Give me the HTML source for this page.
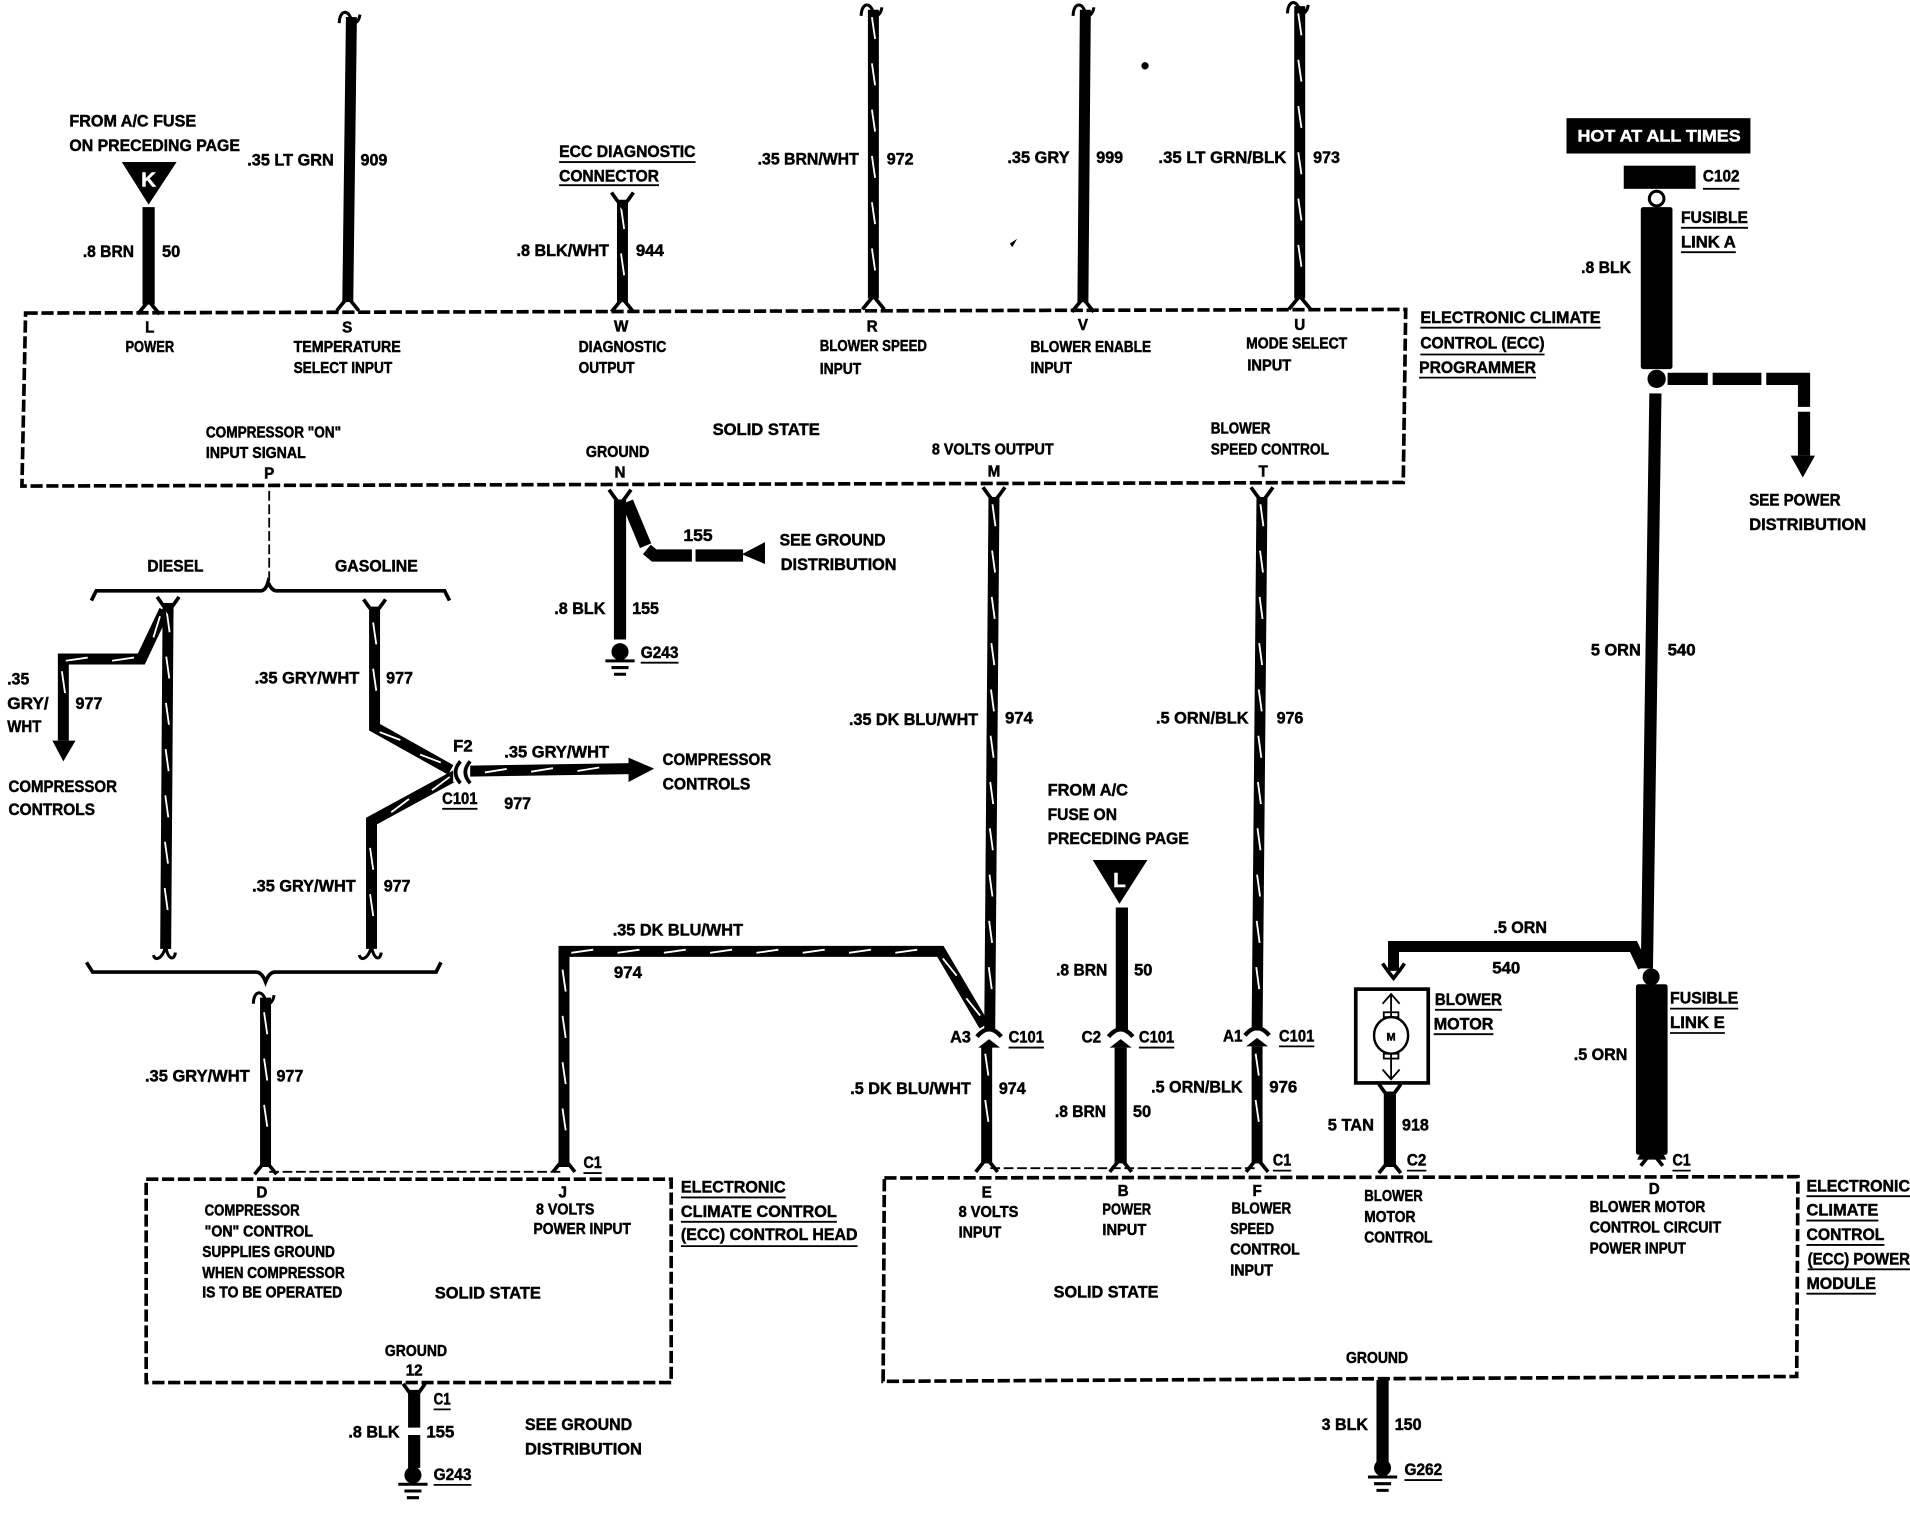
<!DOCTYPE html>
<html><head><meta charset="utf-8"><style>
html,body{margin:0;padding:0;background:#fff}
svg{display:block}
text{font-family:"Liberation Sans",sans-serif;font-weight:700;font-size:14px;fill:#000;stroke:#000;stroke-width:.4}
.s{font-size:12.5px}
.m{text-anchor:middle}
</style></head><body>
<svg xmlns="http://www.w3.org/2000/svg" width="1910" height="1520" viewBox="0 0 1568 1247.8">
<defs>
<path id="s1" d="M-1.2 6L1.4 24" stroke="#fff" stroke-width="1.500" fill="none"/>
<g id="s2"><use href="#s1"/><use href="#s1" y="38"/></g>
<g id="s3"><use href="#s2"/><use href="#s1" y="76"/></g>
<g id="s4"><use href="#s2"/><use href="#s2" y="76"/></g>
<g id="s6"><use href="#s4"/><use href="#s2" y="152"/></g>
<g id="s7"><use href="#s4"/><use href="#s3" y="152"/></g>
<g id="s8"><use href="#s4"/><use href="#s4" y="152"/></g>
<g id="s11"><use href="#s8"/><use href="#s3" y="304"/></g>
<path id="a" d="M-9 6Q-5 1 0-5Q5 1 9 6" fill="none" stroke="#000" stroke-width="3"/>
<path id="y" d="M-9-7Q-5-1 0 5Q5-1 9-7" fill="none" stroke="#000" stroke-width="3"/>
<path id="w" d="M-10 7C-10-4-2-5 0 5C1 9 6 7 7 0" fill="none" stroke="#000" stroke-width="2.5"/>
<path id="b" d="M-10 4C-9 9-3 8 0-3C2 8 7 9 8 2" fill="none" stroke="#000" stroke-width="2.5"/>
<g id="c"><path d="M-10 3Q0-9 10 3" fill="none" stroke="#000" stroke-width="3.5"/><path d="M-9 12L0 5L9 12Z" fill="#000"/></g>
<g id="g"><circle cx="0" cy="0" r="7" fill="#000"/><path d="M-12 7.5H12M-7 13H7M-5 18.5H5" stroke="#000" stroke-width="2.5" fill="none"/></g>
</defs>

<!-- module boxes -->
<g fill="none" stroke="#000" stroke-width="3" stroke-dasharray="10 3">
<path d="M21 257L1154 254L1152 396L18 399Z"/>
<path d="M120 968L551 968L551 1135L120 1135Z"/>
<path d="M726 967L1476 966L1475 1130L725 1134Z"/>
</g>
<g fill="none" stroke="#000" stroke-width="1.5" stroke-dasharray="8 3">
<path d="M221 962H460"/><path d="M813 959H1030"/><path d="M221 403V478"/>
</g>

<!-- solid wires -->
<g fill="none" stroke="#000" stroke-width="10">
<path d="M122 170V250"/>
<path d="M288.500 14L285.500 248" stroke-width="9"/>
<path d="M891 8L889 248" stroke-width="9"/>
<path d="M921 745V845"/><path d="M920 860V955"/>
<path d="M1141 896V958"/>
<path d="M1359 323L1352 795"/>
<path d="M1144 797V777H1341L1349 794" stroke-width="9"/>
<path d="M1369 311H1402M1406 311H1446M1450 311H1481V334M1481 338V374"/>
<path d="M340 1141V1172M340 1178V1205"/>
<path d="M1135 1133V1201"/>
<path d="M509 410V525"/>
<path d="M515 412L530 448M531 451L537 456H568M571 456H610"/>
</g>
<!-- striped wires: black -->
<g fill="none" stroke="#000" stroke-width="9">
<path d="M511 164V248"/>
<path d="M717 8V245"/>
<path d="M1067 5V245"/>
<path d="M816 408L812.500 845"/>
<path d="M810 859V955"/>
<path d="M1036 408L1032 846"/>
<path d="M1032 859V955"/>
<path d="M218 819V958"/>
<path d="M463 958V781H772L808 842"/>
<path d="M138 495L136 779"/>
<path d="M135 501L116 541H52V608"/>
<path d="M307.500 498V597L370 632"/>
<path d="M375 636L305 674V779"/>
<path d="M385 633L518 631"/>
</g>
<!-- stripes -->
<use href="#s2" transform="translate(511 164)"/>
<use href="#s6" transform="translate(717 8)"/>
<use href="#s6" transform="translate(1067 5)"/>
<use href="#s11" transform="translate(816 408) rotate(.46)"/>
<use href="#s2" transform="translate(810 859)"/>
<use href="#s11" transform="translate(1036 408) rotate(.52)"/>
<use href="#s2" transform="translate(1032 859)"/>
<use href="#s3" transform="translate(218 825)"/>
<use href="#s4" transform="translate(463 790)"/>
<use href="#s8" transform="translate(463 781) rotate(-90)"/>
<use href="#s2" transform="translate(772 781) rotate(-30.5)"/>
<use href="#s7" transform="translate(138 495) rotate(.4)"/>
<use href="#s2" transform="translate(307.500 505)"/>
<use href="#s2" transform="translate(305 690)"/>
<use href="#s2" transform="translate(307 597) rotate(-60.9)"/>
<use href="#s2" transform="translate(375 636) rotate(61.5)"/>
<use href="#s3" transform="translate(392 633) rotate(-90.900)"/>
<use href="#s1" transform="translate(135 501) rotate(25.4)"/>
<use href="#s2" transform="translate(116 541) rotate(90)"/>
<use href="#s1" transform="translate(52 545)"/>

<!-- fork ends -->
<use href="#a" x="122" y="252"/><use href="#a" x="285.500" y="249"/><use href="#a" x="511" y="250"/>
<use href="#a" x="717" y="248"/><use href="#a" x="889" y="250"/><use href="#a" x="1067" y="248"/>
<use href="#w" x="288.500" y="12"/><use href="#w" x="717" y="6"/><use href="#w" x="891" y="6"/><use href="#w" x="1067" y="4"/>
<use href="#y" x="511" y="165"/><use href="#y" x="509" y="409"/><use href="#y" x="816" y="407"/><use href="#y" x="1036" y="407"/>
<use href="#y" x="138" y="497"/><use href="#y" x="307.500" y="499"/>
<use href="#b" x="136" y="780"/><use href="#b" x="305" y="780"/>
<use href="#w" x="218" y="817"/>
<use href="#a" x="218" y="958"/><use href="#a" x="463" y="956"/><use href="#a" x="810" y="956"/><use href="#a" x="920" y="956"/><use href="#a" x="1032" y="956"/><use href="#a" x="1141" y="957"/><use href="#a" x="1356" y="951"/>
<use href="#y" x="340" y="1143"/><use href="#y" x="1141" y="897"/><use href="#y" x="1144" y="798"/>
<use href="#c" x="812" y="848"/><use href="#c" x="920" y="848"/><use href="#c" x="1032" y="847"/>

<!-- grounds -->
<use href="#g" x="509" y="535"/><use href="#g" x="339" y="1211"/><use href="#g" x="1135" y="1205"/>

<!-- brackets -->
<g fill="none" stroke="#000">
<path d="M75 493L79 485H214Q218 485 220 478Q223 485 227 485H365L369 493" stroke-width="3"/>
<path d="M71 790L76 798H210Q215 798 218 806Q221 798 226 798H358L362 790" stroke-width="3"/>
</g>

<!-- arrowheads and solids -->
<path d="M100 133H145L122 168Z"/>
<path d="M897 706H942L919 742Z"/>
<path d="M43 608H62L52 625Z"/>
<path d="M516 622L537 631L516 642Z"/>
<path d="M609 455L628 445V463Z"/>
<path d="M1470 374H1490L1480 392Z"/>
<rect x="1286" y="97" width="151" height="29"/>
<rect x="1333" y="136" width="59" height="19"/>
<circle cx="1360" cy="163" r="6" fill="#fff" stroke="#000" stroke-width="2.500"/>
<rect x="1347" y="170" width="26" height="133" rx="2"/>
<circle cx="1360" cy="311" r="7.500"/>
<circle cx="1355.500" cy="802" r="7"/>
<rect x="1343" y="808" width="26" height="140" rx="2"/>
<path d="M1347 946H1365L1368 952H1344Z"/>

<!-- C101 at F2 -->
<rect x="372" y="626" width="14" height="16" fill="#fff"/>
<g fill="none" stroke="#000" stroke-width="3"><path d="M378 625Q370 634 378 643"/><path d="M386 625Q378 634 386 643"/></g>

<!-- blower motor -->
<g fill="none" stroke="#000">
<rect x="1113" y="812" width="59.500" height="77" stroke-width="3"/>
<ellipse cx="1142" cy="850" rx="14" ry="15" stroke-width="2"/>
<path d="M1142 816V835M1142 865V886M1135 824L1142 816L1149 824M1135 878L1142 886L1149 878" stroke-width="1.500"/>
<rect x="1136" y="831" width="12" height="4" stroke-width="1.500"/>
<rect x="1136" y="865" width="12" height="4" stroke-width="1.500"/>
</g>

<!-- underlines -->
<path fill="none" stroke="#000" stroke-width="1.500" d="M459 133H571M459 152H541M526 544H557M1398 155H1428M1380 187H1435M1380 207H1425M1166 269H1314M1166 291H1268M1165 310H1261M363 664H392M828 860H857M935 860H964M1050 859H1079M1178 829H1233M1177 849H1226M1371 828H1427M1371 848H1416M479 963H494M1045 961H1060M1155 961H1171M1373 961H1388M559 983H645M559 1003H687M559 1023H704M356 1157H370M356 1219H387M1483 982H1568M1483 1002H1542M1483 1022H1547M1484 1042H1568M1483 1062H1540M1153 1215H1184"/>

<!-- noise -->
<circle cx="940" cy="54" r="3"/><path d="M829 200L835 196L831 203Z"/>

<!-- white labels -->
<text x="122" y="153" class="m" style="fill:#fff;stroke:#fff;font-size:17px">K</text>
<text x="919" y="728" class="m" style="fill:#fff;stroke:#fff;font-size:17px">L</text>
<text x="1295" y="116" textLength="134" lengthAdjust="spacingAndGlyphs" style="fill:#fff;stroke:#fff">HOT AT ALL TIMES</text>
<text x="1142" y="854" class="m" style="font-size:9px">M</text>

<!-- labels -->
<g>
<text x="57" y="104" textLength="104" lengthAdjust="spacingAndGlyphs">FROM A/C FUSE</text>
<text x="57" y="124" textLength="140" lengthAdjust="spacingAndGlyphs">ON PRECEDING PAGE</text>
<text x="203" y="136" textLength="71" lengthAdjust="spacingAndGlyphs">.35 LT GRN</text>
<text x="296" y="136" textLength="22" lengthAdjust="spacingAndGlyphs">909</text>
<text x="68" y="211" textLength="42" lengthAdjust="spacingAndGlyphs">.8 BRN</text>
<text x="133" y="211" textLength="15" lengthAdjust="spacingAndGlyphs">50</text>
<text x="459" y="129" textLength="112" lengthAdjust="spacingAndGlyphs">ECC DIAGNOSTIC</text>
<text x="459" y="149" textLength="82" lengthAdjust="spacingAndGlyphs">CONNECTOR</text>
<text x="424" y="210" textLength="76" lengthAdjust="spacingAndGlyphs">.8 BLK/WHT</text>
<text x="522" y="210" textLength="23" lengthAdjust="spacingAndGlyphs">944</text>
<text x="622" y="135" textLength="83" lengthAdjust="spacingAndGlyphs">.35 BRN/WHT</text>
<text x="728" y="135" textLength="22" lengthAdjust="spacingAndGlyphs">972</text>
<text x="827" y="134" textLength="51" lengthAdjust="spacingAndGlyphs">.35 GRY</text>
<text x="900" y="134" textLength="22" lengthAdjust="spacingAndGlyphs">999</text>
<text x="951" y="134" textLength="105" lengthAdjust="spacingAndGlyphs">.35 LT GRN/BLK</text>
<text x="1078" y="134" textLength="22" lengthAdjust="spacingAndGlyphs">973</text>
<text x="1398" y="149" textLength="30" lengthAdjust="spacingAndGlyphs">C102</text>
<text x="1380" y="183" textLength="55" lengthAdjust="spacingAndGlyphs">FUSIBLE</text>
<text x="1380" y="203" textLength="45" lengthAdjust="spacingAndGlyphs">LINK A</text>
<text x="1298" y="224" textLength="41" lengthAdjust="spacingAndGlyphs">.8 BLK</text>
<text x="1166" y="265" textLength="148" lengthAdjust="spacingAndGlyphs">ELECTRONIC CLIMATE</text>
<text x="1166" y="286" textLength="102" lengthAdjust="spacingAndGlyphs">CONTROL (ECC)</text>
<text x="1165" y="306" textLength="96" lengthAdjust="spacingAndGlyphs">PROGRAMMER</text>
<text x="1436" y="415" textLength="75" lengthAdjust="spacingAndGlyphs">SEE POWER</text>
<text x="1436" y="435" textLength="96" lengthAdjust="spacingAndGlyphs">DISTRIBUTION</text>

<text x="123" y="273" class="s m">L</text>
<text x="103" y="289" class="s" textLength="40" lengthAdjust="spacingAndGlyphs">POWER</text>
<text x="285" y="273" class="s m">S</text>
<text x="241" y="289" class="s" textLength="88" lengthAdjust="spacingAndGlyphs">TEMPERATURE</text>
<text x="241" y="306" class="s" textLength="81" lengthAdjust="spacingAndGlyphs">SELECT INPUT</text>
<text x="510" y="272" class="s m">W</text>
<text x="475" y="289" class="s" textLength="72" lengthAdjust="spacingAndGlyphs">DIAGNOSTIC</text>
<text x="475" y="306" class="s" textLength="46" lengthAdjust="spacingAndGlyphs">OUTPUT</text>
<text x="716" y="272" class="s m">R</text>
<text x="673" y="288" class="s" textLength="88" lengthAdjust="spacingAndGlyphs">BLOWER SPEED</text>
<text x="673" y="307" class="s" textLength="34" lengthAdjust="spacingAndGlyphs">INPUT</text>
<text x="889" y="271" class="s m">V</text>
<text x="846" y="289" class="s" textLength="99" lengthAdjust="spacingAndGlyphs">BLOWER ENABLE</text>
<text x="846" y="306" class="s" textLength="34" lengthAdjust="spacingAndGlyphs">INPUT</text>
<text x="1067" y="271" class="s m">U</text>
<text x="1023" y="286" class="s" textLength="83" lengthAdjust="spacingAndGlyphs">MODE SELECT</text>
<text x="1024" y="304" class="s" textLength="36" lengthAdjust="spacingAndGlyphs">INPUT</text>
<text x="169" y="359" class="s" textLength="111" lengthAdjust="spacingAndGlyphs">COMPRESSOR "ON"</text>
<text x="169" y="376" class="s" textLength="82" lengthAdjust="spacingAndGlyphs">INPUT SIGNAL</text>
<text x="221" y="393" class="s m">P</text>
<text x="585" y="357" textLength="88" lengthAdjust="spacingAndGlyphs">SOLID STATE</text>
<text x="481" y="375" class="s" textLength="52" lengthAdjust="spacingAndGlyphs">GROUND</text>
<text x="509" y="392" class="s m">N</text>
<text x="765" y="373" class="s" textLength="100" lengthAdjust="spacingAndGlyphs">8 VOLTS OUTPUT</text>
<text x="816" y="391" class="s m">M</text>
<text x="994" y="356" class="s" textLength="49" lengthAdjust="spacingAndGlyphs">BLOWER</text>
<text x="994" y="373" class="s" textLength="97" lengthAdjust="spacingAndGlyphs">SPEED CONTROL</text>
<text x="1037" y="391" class="s m">T</text>

<text x="561" y="444" textLength="24" lengthAdjust="spacingAndGlyphs">155</text>
<text x="640" y="448" textLength="87" lengthAdjust="spacingAndGlyphs">SEE GROUND</text>
<text x="641" y="468" textLength="95" lengthAdjust="spacingAndGlyphs">DISTRIBUTION</text>
<text x="455" y="504" textLength="42" lengthAdjust="spacingAndGlyphs">.8 BLK</text>
<text x="519" y="504" textLength="22" lengthAdjust="spacingAndGlyphs">155</text>
<text x="526" y="540" textLength="31" lengthAdjust="spacingAndGlyphs">G243</text>
<text x="121" y="469" textLength="46" lengthAdjust="spacingAndGlyphs">DIESEL</text>
<text x="275" y="469" textLength="68" lengthAdjust="spacingAndGlyphs">GASOLINE</text>
<text x="6" y="562" textLength="18" lengthAdjust="spacingAndGlyphs">.35</text>
<text x="6" y="582" textLength="34" lengthAdjust="spacingAndGlyphs">GRY/</text>
<text x="6" y="601" textLength="28" lengthAdjust="spacingAndGlyphs">WHT</text>
<text x="62" y="582" textLength="22" lengthAdjust="spacingAndGlyphs">977</text>
<text x="7" y="650" textLength="89" lengthAdjust="spacingAndGlyphs">COMPRESSOR</text>
<text x="7" y="669" textLength="71" lengthAdjust="spacingAndGlyphs">CONTROLS</text>
<text x="209" y="561" textLength="86" lengthAdjust="spacingAndGlyphs">.35 GRY/WHT</text>
<text x="317" y="561" textLength="22" lengthAdjust="spacingAndGlyphs">977</text>
<text x="372" y="617" textLength="16" lengthAdjust="spacingAndGlyphs">F2</text>
<text x="414" y="622" textLength="86" lengthAdjust="spacingAndGlyphs">.35 GRY/WHT</text>
<text x="544" y="628" textLength="89" lengthAdjust="spacingAndGlyphs">COMPRESSOR</text>
<text x="544" y="648" textLength="72" lengthAdjust="spacingAndGlyphs">CONTROLS</text>
<text x="363" y="660" textLength="29" lengthAdjust="spacingAndGlyphs">C101</text>
<text x="414" y="664" textLength="22" lengthAdjust="spacingAndGlyphs">977</text>
<text x="207" y="732" textLength="85" lengthAdjust="spacingAndGlyphs">.35 GRY/WHT</text>
<text x="315" y="732" textLength="22" lengthAdjust="spacingAndGlyphs">977</text>
<text x="697" y="595" textLength="106" lengthAdjust="spacingAndGlyphs">.35 DK BLU/WHT</text>
<text x="825" y="594" textLength="23" lengthAdjust="spacingAndGlyphs">974</text>
<text x="949" y="594" textLength="76" lengthAdjust="spacingAndGlyphs">.5 ORN/BLK</text>
<text x="1048" y="594" textLength="22" lengthAdjust="spacingAndGlyphs">976</text>
<text x="1306" y="538" textLength="41" lengthAdjust="spacingAndGlyphs">5 ORN</text>
<text x="1369" y="538" textLength="23" lengthAdjust="spacingAndGlyphs">540</text>
<text x="860" y="653" textLength="66" lengthAdjust="spacingAndGlyphs">FROM A/C</text>
<text x="860" y="673" textLength="57" lengthAdjust="spacingAndGlyphs">FUSE ON</text>
<text x="860" y="693" textLength="116" lengthAdjust="spacingAndGlyphs">PRECEDING PAGE</text>
<text x="503" y="768" textLength="107" lengthAdjust="spacingAndGlyphs">.35 DK BLU/WHT</text>
<text x="504" y="803" textLength="23" lengthAdjust="spacingAndGlyphs">974</text>
<text x="1226" y="766" textLength="44" lengthAdjust="spacingAndGlyphs">.5 ORN</text>
<text x="1225" y="799" textLength="23" lengthAdjust="spacingAndGlyphs">540</text>
<text x="867" y="801" textLength="42" lengthAdjust="spacingAndGlyphs">.8 BRN</text>
<text x="931" y="801" textLength="15" lengthAdjust="spacingAndGlyphs">50</text>
<text x="780" y="856" textLength="17" lengthAdjust="spacingAndGlyphs">A3</text>
<text x="828" y="856" textLength="29" lengthAdjust="spacingAndGlyphs">C101</text>
<text x="888" y="856" textLength="16" lengthAdjust="spacingAndGlyphs">C2</text>
<text x="935" y="856" textLength="29" lengthAdjust="spacingAndGlyphs">C101</text>
<text x="1004" y="855" textLength="16" lengthAdjust="spacingAndGlyphs">A1</text>
<text x="1050" y="855" textLength="29" lengthAdjust="spacingAndGlyphs">C101</text>
<text x="1178" y="825" textLength="55" lengthAdjust="spacingAndGlyphs">BLOWER</text>
<text x="1177" y="845" textLength="49" lengthAdjust="spacingAndGlyphs">MOTOR</text>
<text x="1371" y="824" textLength="56" lengthAdjust="spacingAndGlyphs">FUSIBLE</text>
<text x="1371" y="844" textLength="45" lengthAdjust="spacingAndGlyphs">LINK E</text>
<text x="1292" y="870" textLength="44" lengthAdjust="spacingAndGlyphs">.5 ORN</text>
<text x="698" y="898" textLength="99" lengthAdjust="spacingAndGlyphs">.5 DK BLU/WHT</text>
<text x="820" y="898" textLength="22" lengthAdjust="spacingAndGlyphs">974</text>
<text x="945" y="897" textLength="75" lengthAdjust="spacingAndGlyphs">.5 ORN/BLK</text>
<text x="1042" y="897" textLength="23" lengthAdjust="spacingAndGlyphs">976</text>
<text x="866" y="917" textLength="42" lengthAdjust="spacingAndGlyphs">.8 BRN</text>
<text x="930" y="917" textLength="15" lengthAdjust="spacingAndGlyphs">50</text>
<text x="1090" y="928" textLength="38" lengthAdjust="spacingAndGlyphs">5 TAN</text>
<text x="1151" y="928" textLength="22" lengthAdjust="spacingAndGlyphs">918</text>
<text x="119" y="888" textLength="86" lengthAdjust="spacingAndGlyphs">.35 GRY/WHT</text>
<text x="227" y="888" textLength="22" lengthAdjust="spacingAndGlyphs">977</text>
<text x="479" y="959" textLength="15" lengthAdjust="spacingAndGlyphs">C1</text>
<text x="1045" y="957" textLength="15" lengthAdjust="spacingAndGlyphs">C1</text>
<text x="1155" y="957" textLength="16" lengthAdjust="spacingAndGlyphs">C2</text>
<text x="1373" y="957" textLength="15" lengthAdjust="spacingAndGlyphs">C1</text>

<text x="215" y="983" class="s m">D</text>
<text x="168" y="998" class="s" textLength="78" lengthAdjust="spacingAndGlyphs">COMPRESSOR</text>
<text x="168" y="1015" class="s" textLength="89" lengthAdjust="spacingAndGlyphs">"ON" CONTROL</text>
<text x="166" y="1032" class="s" textLength="109" lengthAdjust="spacingAndGlyphs">SUPPLIES GROUND</text>
<text x="166" y="1049" class="s" textLength="117" lengthAdjust="spacingAndGlyphs">WHEN COMPRESSOR</text>
<text x="166" y="1065" class="s" textLength="115" lengthAdjust="spacingAndGlyphs">IS TO BE OPERATED</text>
<text x="462" y="983" class="s m">J</text>
<text x="440" y="997" class="s" textLength="48" lengthAdjust="spacingAndGlyphs">8 VOLTS</text>
<text x="438" y="1013" class="s" textLength="80" lengthAdjust="spacingAndGlyphs">POWER INPUT</text>
<text x="357" y="1066" textLength="87" lengthAdjust="spacingAndGlyphs">SOLID STATE</text>
<text x="316" y="1113" class="s" textLength="51" lengthAdjust="spacingAndGlyphs">GROUND</text>
<text x="340" y="1129" class="s m">12</text>
<text x="559" y="979" textLength="86" lengthAdjust="spacingAndGlyphs">ELECTRONIC</text>
<text x="559" y="999" textLength="128" lengthAdjust="spacingAndGlyphs">CLIMATE CONTROL</text>
<text x="559" y="1018" textLength="145" lengthAdjust="spacingAndGlyphs">(ECC) CONTROL HEAD</text>
<text x="356" y="1153" textLength="14" lengthAdjust="spacingAndGlyphs">C1</text>
<text x="286" y="1180" textLength="42" lengthAdjust="spacingAndGlyphs">.8 BLK</text>
<text x="350" y="1180" textLength="23" lengthAdjust="spacingAndGlyphs">155</text>
<text x="431" y="1174" textLength="88" lengthAdjust="spacingAndGlyphs">SEE GROUND</text>
<text x="431" y="1194" textLength="96" lengthAdjust="spacingAndGlyphs">DISTRIBUTION</text>
<text x="356" y="1215" textLength="31" lengthAdjust="spacingAndGlyphs">G243</text>

<text x="810" y="983" class="s m">E</text>
<text x="787" y="999" class="s" textLength="49" lengthAdjust="spacingAndGlyphs">8 VOLTS</text>
<text x="787" y="1016" class="s" textLength="35" lengthAdjust="spacingAndGlyphs">INPUT</text>
<text x="922" y="982" class="s m">B</text>
<text x="905" y="997" class="s" textLength="40" lengthAdjust="spacingAndGlyphs">POWER</text>
<text x="905" y="1014" class="s" textLength="36" lengthAdjust="spacingAndGlyphs">INPUT</text>
<text x="1032" y="982" class="s m">F</text>
<text x="1011" y="996" class="s" textLength="49" lengthAdjust="spacingAndGlyphs">BLOWER</text>
<text x="1010" y="1013" class="s" textLength="36" lengthAdjust="spacingAndGlyphs">SPEED</text>
<text x="1010" y="1030" class="s" textLength="57" lengthAdjust="spacingAndGlyphs">CONTROL</text>
<text x="1010" y="1047" class="s" textLength="35" lengthAdjust="spacingAndGlyphs">INPUT</text>
<text x="1120" y="986" class="s" textLength="48" lengthAdjust="spacingAndGlyphs">BLOWER</text>
<text x="1120" y="1003" class="s" textLength="42" lengthAdjust="spacingAndGlyphs">MOTOR</text>
<text x="1120" y="1020" class="s" textLength="56" lengthAdjust="spacingAndGlyphs">CONTROL</text>
<text x="1358" y="980" class="s m">D</text>
<text x="1305" y="995" class="s" textLength="95" lengthAdjust="spacingAndGlyphs">BLOWER MOTOR</text>
<text x="1305" y="1012" class="s" textLength="108" lengthAdjust="spacingAndGlyphs">CONTROL CIRCUIT</text>
<text x="1305" y="1029" class="s" textLength="79" lengthAdjust="spacingAndGlyphs">POWER INPUT</text>
<text x="865" y="1065" textLength="86" lengthAdjust="spacingAndGlyphs">SOLID STATE</text>
<text x="1105" y="1119" class="s" textLength="51" lengthAdjust="spacingAndGlyphs">GROUND</text>
<text x="1483" y="978" textLength="85" lengthAdjust="spacingAndGlyphs">ELECTRONIC</text>
<text x="1483" y="998" textLength="59" lengthAdjust="spacingAndGlyphs">CLIMATE</text>
<text x="1483" y="1018" textLength="64" lengthAdjust="spacingAndGlyphs">CONTROL</text>
<text x="1484" y="1038" textLength="84" lengthAdjust="spacingAndGlyphs">(ECC) POWER</text>
<text x="1483" y="1058" textLength="57" lengthAdjust="spacingAndGlyphs">MODULE</text>
<text x="1085" y="1174" textLength="38" lengthAdjust="spacingAndGlyphs">3 BLK</text>
<text x="1145" y="1174" textLength="22" lengthAdjust="spacingAndGlyphs">150</text>
<text x="1153" y="1211" textLength="31" lengthAdjust="spacingAndGlyphs">G262</text>
</g>
</svg>
</body></html>
